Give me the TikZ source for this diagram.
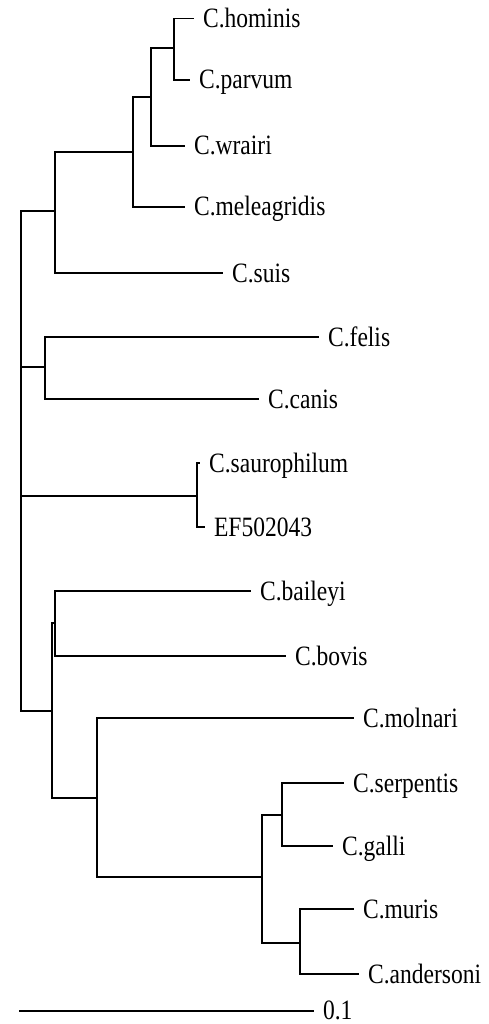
\documentclass[tikz,border=0pt]{standalone}
\usepackage{fontspec}
\setmainfont{Liberation Serif}
\newfontfamily\labfont[FakeStretch=0.84]{Liberation Serif}
\begin{document}
\begin{tikzpicture}[x=1pt,y=-1pt,line width=1.2pt,line cap=rect,
  lab/.style={anchor=base west,inner sep=0pt,xshift=9.5pt,yshift=-9pt,
    font=\labfont\fontsize{28}{28}\selectfont}]
\useasboundingbox (0,0) rectangle (488,1024);
% internal nodes
\coordinate (R)  at (21,461);
\coordinate (A)  at (55,211);
\coordinate (A1) at (133,152);
\coordinate (A2) at (151,97);
\coordinate (A3) at (174,48);
\coordinate (F)  at (45,367);
\coordinate (S)  at (197,496);
\coordinate (B)  at (52,711);
\coordinate (B1) at (55,623);
\coordinate (B2) at (97,798);
\coordinate (B3) at (262,877);
\coordinate (B4) at (282,815);
\coordinate (B5) at (300,943);
% leaf tips
\coordinate (hom) at (193,18.5);
\coordinate (par) at (189,80);
\coordinate (wra) at (184,146);
\coordinate (mel) at (184,207);
\coordinate (sui) at (222,273);
\coordinate (fel) at (318,337);
\coordinate (can) at (258,399);
\coordinate (sau) at (199,463);
\coordinate (ef)  at (204,527);
\coordinate (bai) at (250,591);
\coordinate (bov) at (285,656);
\coordinate (mol) at (353,718);
\coordinate (ser) at (343,783);
\coordinate (gal) at (332,846);
\coordinate (mur) at (353,909);
\coordinate (and) at (358,974);
\coordinate (s0) at (20,1011);
\coordinate (s1) at (313,1011);
% branches
\draw (A) -- (R |- A) -- (R |- B) -- (B);
\draw (F) -- (R |- F);
\draw (S) -- (R |- S);
\draw (A1) -- (A |- A1) -- (A |- sui) -- (sui);
\draw (A2) -- (A1 |- A2) -- (A1 |- mel) -- (mel);
\draw (A3) -- (A2 |- A3) -- (A2 |- wra) -- (wra);
\draw (hom) -- (A3 |- hom) -- (A3 |- par) -- (par);
\draw (fel) -- (F |- fel) -- (F |- can) -- (can);
\draw (sau) -- (S |- sau) -- (S |- ef) -- (ef);
\draw (B1) -- (B |- B1) -- (B |- B2) -- (B2);
\draw (bai) -- (B1 |- bai) -- (B1 |- bov) -- (bov);
\draw (mol) -- (B2 |- mol) -- (B2 |- B3) -- (B3);
\draw (B4) -- (B3 |- B4) -- (B3 |- B5) -- (B5);
\draw (ser) -- (B4 |- ser) -- (B4 |- gal) -- (gal);
\draw (mur) -- (B5 |- mur) -- (B5 |- and) -- (and);
\draw (s0) -- (s1);
% labels
\node[lab] (Lhom) at (hom) {C.hominis};
\node[lab] (Lpar) at (par) {C.parvum};
\node[lab] (Lwra) at (wra) {C.wrairi};
\node[lab] (Lmel) at (mel) {C.meleagridis};
\node[lab] (Lsui) at (sui) {C.suis};
\node[lab] (Lfel) at (fel) {C.felis};
\node[lab] (Lcan) at (can) {C.canis};
\node[lab] (Lsau) at (sau) {C.saurophilum};
\node[lab] (Lef)  at (ef)  {EF502043};
\node[lab] (Lbai) at (bai) {C.baileyi};
\node[lab] (Lbov) at (bov) {C.bovis};
\node[lab] (Lmol) at (mol) {C.molnari};
\node[lab] (Lser) at (ser) {C.serpentis};
\node[lab] (Lgal) at (gal) {C.galli};
\node[lab] (Lmur) at (mur) {C.muris};
\node[lab] (Land) at (and) {C.andersoni};
\node[lab] (Lscale) at ([yshift=1pt]s1) {0.1};
\end{tikzpicture}
\end{document}
